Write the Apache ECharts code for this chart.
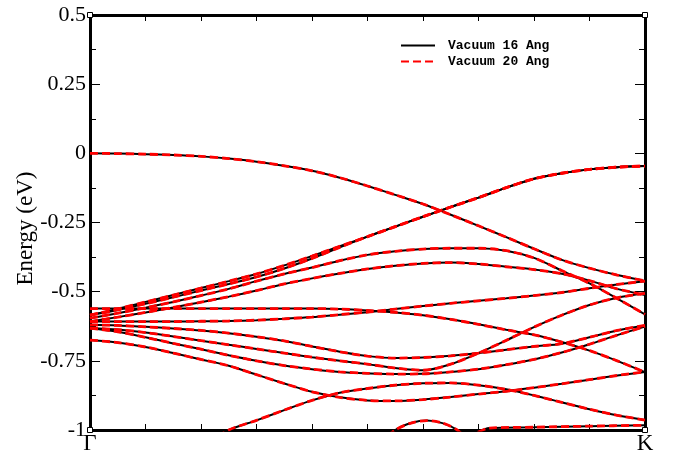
<!DOCTYPE html>
<html>
<head>
<meta charset="utf-8">
<script src="https://cdn.jsdelivr.net/npm/echarts@6/dist/echarts.min.js"></script>
<style>
  html, body { margin: 0; padding: 0; background: #fff; }
  #chart { width: 675px; height: 457px; }
</style>
</head>
<body>
<div id="chart"></div>
<script>
// k-path from Gamma (0) to K (1)
const kPath = [0, 0.05, 0.1, 0.15, 0.2, 0.25, 0.3, 0.35, 0.4, 0.45, 0.5,
               0.55, 0.6, 0.65, 0.7, 0.75, 0.8, 0.85, 0.9, 0.95, 1.0];

// band energies (eV) along kPath
const band1 = [0, -0.001, -0.003, -0.006, -0.011, -0.019, -0.03, -0.045, -0.063, -0.088, -0.118,
               -0.15, -0.183, -0.222, -0.262, -0.303, -0.345, -0.385, -0.415, -0.44, -0.461];
const band2 = [-0.585, -0.562, -0.537, -0.512, -0.487, -0.462, -0.436, -0.405, -0.371, -0.336, -0.301,
               -0.265, -0.229, -0.194, -0.16, -0.124, -0.092, -0.072, -0.058, -0.05, -0.046];
const band3 = [-0.585, -0.566, -0.544, -0.52, -0.496, -0.472, -0.447, -0.416, -0.38, -0.34, -0.301,
               -0.265, -0.229, -0.194, -0.16, -0.124, -0.092, -0.072, -0.058, -0.05, -0.046];
const band4 = [-0.596, -0.578, -0.558, -0.537, -0.514, -0.49, -0.462, -0.436, -0.413, -0.388, -0.367,
               -0.354, -0.346, -0.343, -0.343, -0.352, -0.378, -0.424, -0.47, -0.525, -0.582];
const band5 = [-0.608, -0.592, -0.575, -0.557, -0.538, -0.518, -0.496, -0.472, -0.452, -0.434, -0.418,
               -0.406, -0.398, -0.395, -0.4, -0.41, -0.42, -0.435, -0.46, -0.49, -0.512];
const band6 = [-0.561, -0.561, -0.561, -0.561, -0.561, -0.561, -0.561, -0.561, -0.561, -0.563, -0.568,
               -0.575, -0.585, -0.6, -0.618, -0.638, -0.656, -0.682, -0.713, -0.75, -0.791];
const band7 = [-0.608, -0.608, -0.608, -0.608, -0.607, -0.606, -0.603, -0.598, -0.592, -0.583, -0.574,
               -0.563, -0.552, -0.542, -0.533, -0.524, -0.514, -0.503, -0.488, -0.474, -0.462];
const band8 = [-0.62, -0.622, -0.627, -0.633, -0.64, -0.65, -0.663, -0.678, -0.698, -0.717, -0.733,
               -0.74, -0.738, -0.732, -0.722, -0.71, -0.698, -0.688, -0.665, -0.64, -0.622];
const band9 = [-0.632, -0.637, -0.648, -0.662, -0.677, -0.692, -0.707, -0.722, -0.737, -0.75, -0.762,
               -0.776, -0.784, -0.762, -0.722, -0.676, -0.628, -0.585, -0.548, -0.522, -0.506];
const band10 = [-0.632, -0.645, -0.665, -0.687, -0.708, -0.73, -0.75, -0.767, -0.78, -0.79, -0.795,
                -0.798, -0.797, -0.79, -0.78, -0.764, -0.745, -0.72, -0.69, -0.657, -0.626];
const band11 = [-0.675, -0.684, -0.7, -0.722, -0.745, -0.768, -0.8, -0.832, -0.862, -0.882, -0.893,
                -0.895, -0.89, -0.881, -0.87, -0.86, -0.847, -0.833, -0.818, -0.803, -0.79];
const band12 = [-1.12, -1.1, -1.09, -1.08, -1.06, -1.0, -0.965, -0.928, -0.893, -0.865, -0.85,
                -0.838, -0.831, -0.83, -0.838, -0.853, -0.875, -0.9, -0.925, -0.947, -0.964];

// two short bands near the bottom of the window
const kHump = [0.52, 0.55, 0.58, 0.607, 0.635, 0.66, 0.69];
const bandHump = [-1.05, -1.0, -0.974, -0.966, -0.975, -0.998, -1.05];
const kEdge = [0.68, 0.72, 0.8, 0.9, 1.0];
const bandEdge = [-1.03, -0.993, -0.99, -0.986, -0.983];

const mainBands = [band1, band2, band3, band4, band5, band6, band7, band8, band9, band10, band11, band12];

const seriesNames = ['Vacuum 16 Ang', 'Vacuum 20 Ang'];
const yMin = -1, yMax = 0.5, yStep = 0.25;
const xMin = 0, xMax = 1;

function pairs(ks, es) { return ks.map((k, i) => [k, es[i]]); }

const allBands = mainBands.map(b => pairs(kPath, b))
  .concat([pairs(kHump, bandHump), pairs(kEdge, bandEdge)]);

const solidStyle = { color: '#000000', width: 2, type: 'solid' };
const dashStyle = { color: '#ff0000', width: 2.8, type: [8, 4] };

const series = [];
allBands.forEach(d => series.push({
  name: seriesNames[0], type: 'line', data: d, smooth: 0.3,
  symbol: 'none', lineStyle: solidStyle, itemStyle: { color: '#000000' }, z: 2
}));
allBands.forEach(d => series.push({
  name: seriesNames[1], type: 'line', data: d, smooth: 0.3,
  symbol: 'none', lineStyle: dashStyle, itemStyle: { color: '#ff0000' }, z: 3
}));
// small square markers at the frame corners
series.push({
  type: 'scatter', symbol: 'rect', symbolSize: 5, clip: false, silent: true, z: 10,
  data: [[xMin, yMax], [xMax, yMax], [xMin, yMin], [xMax, yMin]],
  itemStyle: { color: '#ffffff', borderColor: '#000000', borderWidth: 1, opacity: 1 }
});

const serif = '"Liberation Serif", "Times New Roman", "DejaVu Serif", serif';
const mono = '"Liberation Mono", "Courier New", "DejaVu Sans Mono", monospace';
const frameLine = { show: true, onZero: false, lineStyle: { color: '#000', width: 3 } };

const chart = echarts.init(document.getElementById('chart'), null, { renderer: 'canvas' });
chart.setOption({
  animation: false,
  backgroundColor: '#ffffff',
  grid: { left: 90, right: 30, top: 15, bottom: 27, containLabel: false },
  legend: {
    data: seriesNames.map(n => ({ name: n, itemStyle: { opacity: 0 } })),
    orient: 'vertical',
    left: 400, top: 39,
    padding: 0,
    itemWidth: 34, itemHeight: 14, itemGap: 3,
    itemStyle: { opacity: 0 },
    textStyle: { fontFamily: mono, fontWeight: 'bold', fontSize: 13, color: '#000', padding: [0, 0, 0, 8] }
  },
  xAxis: [{
    type: 'value', min: xMin, max: xMax, interval: 0.1, position: 'bottom',
    axisLine: frameLine,
    axisTick: { show: true, inside: true, length: 6, lineStyle: { color: '#000', width: 1 } },
    axisLabel: {
      margin: 2, fontFamily: serif, fontSize: 23, color: '#000',
      formatter: v => (v === xMin ? 'Γ' : (v === xMax ? 'K' : ''))
    },
    splitLine: { show: false }
  }, {
    type: 'value', min: xMin, max: xMax, interval: 0.1, position: 'top',
    axisLine: frameLine,
    axisTick: { show: true, inside: true, length: 6, lineStyle: { color: '#000', width: 1 } },
    axisLabel: { show: false },
    splitLine: { show: false }
  }],
  yAxis: [{
    type: 'value', min: yMin, max: yMax, interval: yStep, position: 'left',
    name: 'Energy (eV)', nameLocation: 'middle', nameGap: 53, nameMoveOverlap: false,
    nameTextStyle: { fontFamily: serif, fontSize: 23, color: '#000', padding: [0, 12, 0, 0] },
    axisLine: frameLine,
    axisTick: { show: true, inside: true, length: 10, lineStyle: { color: '#000', width: 1 } },
    minorTick: { show: true, splitNumber: 2, length: 6, lineStyle: { color: '#000', width: 1 } },
    axisLabel: { margin: 4, fontFamily: serif, fontSize: 22, color: '#000', formatter: v => String(v) },
    splitLine: { show: false }
  }, {
    type: 'value', min: yMin, max: yMax, interval: yStep, position: 'right',
    axisLine: frameLine,
    axisTick: { show: true, inside: true, length: 10, lineStyle: { color: '#000', width: 1 } },
    minorTick: { show: true, splitNumber: 2, length: 6, lineStyle: { color: '#000', width: 1 } },
    axisLabel: { show: false },
    splitLine: { show: false }
  }],
  series: series
});
</script>
</body>
</html>
